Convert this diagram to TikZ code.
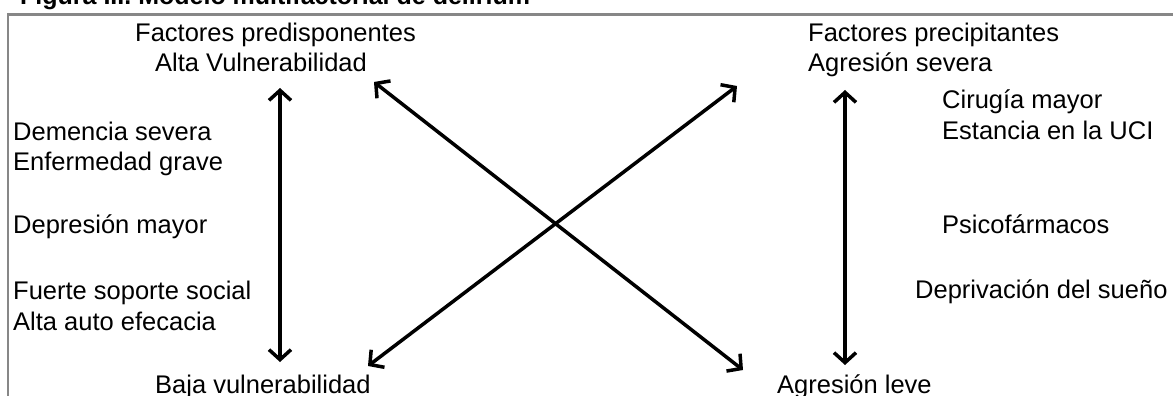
\documentclass[tikz,border=0pt]{standalone}
\usepackage{fontspec}
\setmainfont{Liberation Sans}
\usetikzlibrary{arrows.meta}
\begin{document}
\begin{tikzpicture}[x=1pt,y=-1pt,
  lbl/.style={anchor=base west,inner sep=0pt,font=\fontsize{25.5}{30}\selectfont},
  ttl/.style={anchor=base west,inner sep=0pt,font=\fontsize{25}{30}\selectfont\bfseries},
  tip/.style={},
  arr/.style={line width=3.5pt,{Straight Barb[length=10pt,width=22pt,line width=3.5pt]}-{Straight Barb[length=10pt,width=22pt,line width=3.5pt]}},
  frame/.style={draw=black!47}]
\useasboundingbox (0,0) rectangle (1173,396);
\clip (0,0) rectangle (1173,396);
\node[ttl] (title) at (20,5) {Figura III. Modelo multifactorial de delirium};
\draw[frame,line width=3pt] (8,14.5) -- (1173,14.5);
\draw[frame,line width=1.5pt] (8,13) -- (8,396);
% left column
\node[lbl] (fp) at (135,42) {Factores predisponentes};
\node[lbl] (av) at (155,72) {Alta Vulnerabilidad};
\node[lbl] (dem) at (13,140) {Demencia severa};
\node[lbl] (enf) at (13,170) {Enfermedad grave};
\node[lbl] (dep) at (13,233) {Depresión mayor};
\node[lbl] (fue) at (13,299) {Fuerte soporte social};
\node[lbl] (aut) at (13,330) {Alta auto efecacia};
\node[lbl] (bv) at (155,393) {Baja vulnerabilidad};
% right column
\node[lbl] (fpr) at (808,42) {Factores precipitantes};
\node[lbl] (as) at (808,72) {Agresión severa};
\node[lbl] (cir) at (942,108) {Cirugía mayor};
\node[lbl] (est) at (942,139) {Estancia en la UCI};
\node[lbl] (psi) at (942,233) {Psicofármacos};
\node[lbl] (dpr) at (915,298) {Deprivación del sueño};
\node[lbl] (al) at (777,393) {Agresión leve};
% arrow ends
\coordinate (lt) at (280,88);
\coordinate (lb) at (280,362);
\coordinate (rt) at (845,90);
\coordinate (rb) at (845,365);
\coordinate (d1a) at (374,82);
\coordinate (d1b) at (743,370);
\coordinate (d2a) at (368,366);
\coordinate (d2b) at (737,86);
\draw[arr] (lt) -- (lb);
\draw[arr] (rt) -- (rb);
\draw[arr] (d1a) -- (d1b);
\draw[arr] (d2a) -- (d2b);
\end{tikzpicture}
\end{document}
